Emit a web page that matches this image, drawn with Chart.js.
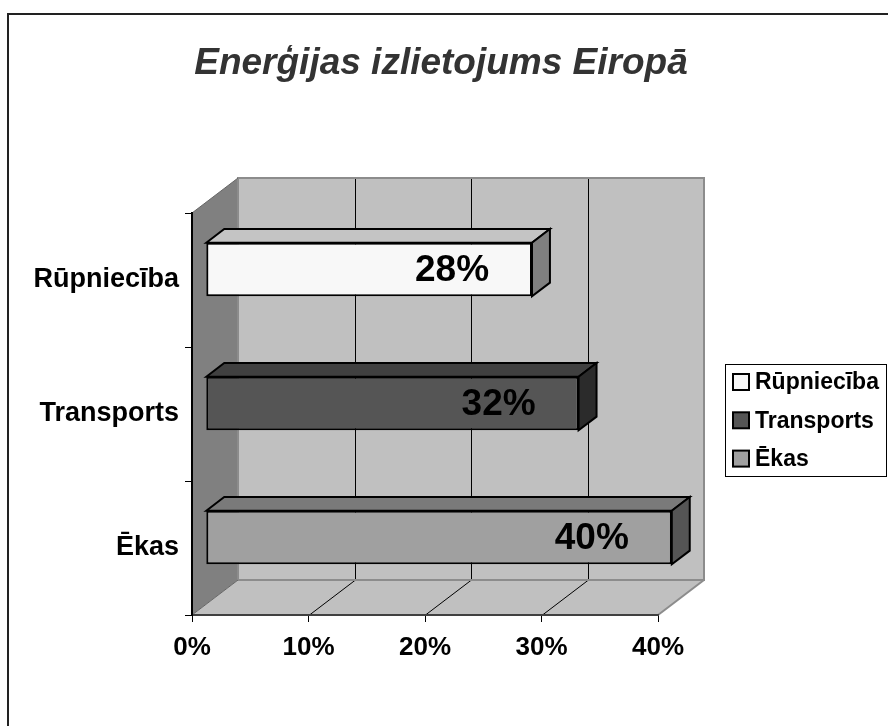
<!DOCTYPE html>
<html>
<head>
<meta charset="utf-8">
<script src="https://cdn.jsdelivr.net/npm/chart.js@4"></script>
<style>
  body { margin: 0; background: #fff; }
</style>
</head>
<body>
<canvas id="energy_chart" width="888" height="726"></canvas>
<script>
"use strict"

// chart data
var chartTitle = 'Enerģijas izlietojums Eiropā';
var categories = ['Rūpniecība', 'Transports', 'Ēkas'];
var shares = [28, 32, 40];
var tickValues = [0, 10, 20, 30, 40];

// bar colours (front, top, side)
var frontColors = ['#f8f8f8', '#555555', '#a0a0a0'];
var topColors = ['#c4c4c4', '#404040', '#7a7a7a'];
var sideColors = ['#808080', '#2b2b2b', '#555555'];

var FONT = '"Liberation Sans", Arial, sans-serif';
var DEPTH = {x: 46, y: -35};
var BAR_FRONT = 0.3;
var BAR_DEPTH = 0.39;

Chart.defaults.font.family = FONT;
Chart.defaults.color = '#000';

function poly(ctx, pts) {
    ctx.beginPath();
    ctx.moveTo(pts[0][0], pts[0][1]);
    for (var i = 1; i < pts.length; i++) ctx.lineTo(pts[i][0], pts[i][1]);
    ctx.closePath();
}

function line(ctx, x0, y0, x1, y1) {
    ctx.beginPath();
    ctx.moveTo(x0, y0);
    ctx.lineTo(x1, y1);
    ctx.stroke();
}

var box3d = {
    id: 'box3d',
    beforeDraw: function(chart) {
        var ctx = chart.ctx, a = chart.chartArea, xs = chart.scales.x;
        var dx = DEPTH.x, dy = DEPTH.y;
        ctx.save();
        ctx.fillStyle = '#fff';
        ctx.fillRect(0, 0, chart.width, chart.height);

        // back wall
        ctx.fillStyle = '#c0c0c0';
        ctx.fillRect(a.left + dx, a.top + dy, a.right - a.left, a.bottom - a.top);
        // left wall
        ctx.fillStyle = '#808080';
        poly(ctx, [[a.left, a.top], [a.left + dx, a.top + dy], [a.left + dx, a.bottom + dy], [a.left, a.bottom]]);
        ctx.fill();
        // floor
        ctx.fillStyle = '#c0c0c0';
        poly(ctx, [[a.left, a.bottom], [a.left + dx, a.bottom + dy], [a.right + dx, a.bottom + dy], [a.right, a.bottom]]);
        ctx.fill();

        // grid on back wall and floor
        ctx.strokeStyle = '#000';
        ctx.lineWidth = 1;
        tickValues.slice(1, -1).forEach(function(v) {
            var px = Math.round(xs.getPixelForValue(v)) + 0.5;
            line(ctx, px + dx, a.top + dy, px + dx, a.bottom + dy);
            line(ctx, px, a.bottom, px + dx, a.bottom + dy);
        });

        // wall edges
        ctx.strokeStyle = '#8c8c8c';
        ctx.lineWidth = 2;
        ctx.strokeRect(a.left + dx, a.top + dy, a.right - a.left, a.bottom - a.top);
        line(ctx, a.right, a.bottom, a.right + dx, a.bottom + dy);
        ctx.strokeStyle = '#666';
        ctx.lineWidth = 1;
        line(ctx, a.left, a.top, a.left + dx, a.top + dy);
        line(ctx, a.left, a.bottom, a.left + dx, a.bottom + dy);
        ctx.restore();
    },
    beforeDatasetsDraw: function(chart) {
        // bars sit part way into the depth of the box
        chart.ctx.save();
        chart.ctx.translate(DEPTH.x * BAR_FRONT, DEPTH.y * BAR_FRONT);
    },
    afterDatasetsDraw: function(chart) {
        var ctx = chart.ctx;
        ctx.restore();
        var ox = DEPTH.x * BAR_FRONT, oy = DEPTH.y * BAR_FRONT;
        var bx = DEPTH.x * BAR_DEPTH, by = DEPTH.y * BAR_DEPTH;
        var meta = chart.getDatasetMeta(0);
        ctx.save();
        ctx.lineWidth = 2;
        ctx.strokeStyle = '#000';
        ctx.lineJoin = 'miter';
        meta.data.forEach(function(bar, i) {
            var p = bar.getProps(['x', 'y', 'base', 'height'], true);
            var x0 = p.base + ox, x1 = p.x + ox;
            var y0 = p.y - p.height / 2 + oy, y1 = p.y + p.height / 2 + oy;
            ctx.fillStyle = topColors[i];
            poly(ctx, [[x0, y0], [x0 + bx, y0 + by], [x1 + bx, y0 + by], [x1, y0]]);
            ctx.fill();
            ctx.stroke();
            ctx.fillStyle = sideColors[i];
            poly(ctx, [[x1, y0], [x1 + bx, y0 + by], [x1 + bx, y1 + by], [x1, y1]]);
            ctx.fill();
            ctx.stroke();

            // value label
            ctx.fillStyle = '#000';
            ctx.font = 'bold 37px ' + FONT;
            ctx.textAlign = 'center';
            ctx.textBaseline = 'middle';
            ctx.fillText(shares[i] + '%', x1 - 80, (y0 + y1) / 2 + 1);
        });
        ctx.restore();
    },
    afterDraw: function(chart) {
        var ctx = chart.ctx;
        ctx.save();
        // title
        ctx.fillStyle = '#333';
        ctx.font = 'italic bold 37px ' + FONT;
        ctx.textAlign = 'center';
        ctx.textBaseline = 'alphabetic';
        ctx.fillText(chartTitle, 441, 74);

        // legend
        ctx.fillStyle = '#fff';
        ctx.fillRect(725, 364, 161, 112);
        ctx.strokeStyle = '#000';
        ctx.lineWidth = 1;
        ctx.strokeRect(725.5, 364.5, 161, 112);
        ctx.font = 'bold 23px ' + FONT;
        ctx.textAlign = 'left';
        ctx.textBaseline = 'middle';
        categories.forEach(function(c, i) {
            var cy = 382 + i * 38.3;
            ctx.fillStyle = frontColors[i];
            ctx.fillRect(733, cy - 8, 16, 16);
            ctx.lineWidth = 2;
            ctx.strokeRect(733, cy - 8, 16, 16);
            ctx.fillStyle = '#000';
            ctx.fillText(c, 755, cy + 1);
        });

        // chart frame
        ctx.strokeStyle = '#222';
        ctx.lineWidth = 2;
        ctx.strokeRect(8, 14, 1000, 1000);
        ctx.restore();
    }
};

var energyChart = new Chart(document.getElementById('energy_chart'), {
    type: 'bar',
    data: {
        labels: categories,
        datasets: [
            {
                label: 'Enerģijas izlietojums',
                data: shares,
                backgroundColor: frontColors,
                borderColor: '#000',
                borderWidth: 2,
                borderSkipped: false,
                categoryPercentage: 1.0,
                barPercentage: 0.4,
                clip: false
            }
        ]
    },
    options: {
        indexAxis: 'y',
        responsive: false,
        animation: false,
        layout: {
            padding: {left: 0, top: 213, right: 230, bottom: 0}
        },
        plugins: {
            legend: {display: false},
            title: {display: false},
            tooltip: {enabled: false}
        },
        scales: {
            x: {
                min: tickValues[0],
                max: tickValues[tickValues.length - 1],
                afterBuildTicks: function(scale) {
                    scale.ticks = tickValues.map(function(v) { return {value: v}; });
                },
                afterFit: function(scale) { scale.height = 111; },
                grid: {drawOnChartArea: false, tickLength: 7, color: '#000', lineWidth: 1},
                border: {display: true, color: '#404040', width: 2},
                ticks: {
                    autoSkip: false,
                    maxRotation: 0,
                    padding: 10,
                    color: '#000',
                    font: {size: 26, weight: 'bold'},
                    callback: function(v) { return v + '%'; }
                }
            },
            y: {
                afterFit: function(scale) { scale.width = 192; },
                grid: {drawOnChartArea: false, tickLength: 7, color: '#000', lineWidth: 1, offset: true},
                border: {display: true, color: '#000', width: 2},
                ticks: {
                    padding: 6,
                    color: '#000',
                    font: {size: 27, weight: 'bold'}
                }
            }
        }
    },
    plugins: [box3d]
});
</script>
</body>
</html>
